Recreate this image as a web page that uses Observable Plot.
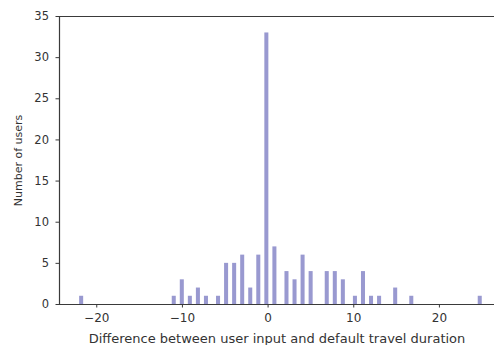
<!DOCTYPE html>
<html>
<head>
<meta charset="utf-8">
<script src="https://cdn.jsdelivr.net/npm/d3@7"></script>
<script src="https://cdn.jsdelivr.net/npm/@observablehq/plot@0.6"></script>
<style>
  html, body { margin: 0; padding: 0; background: #fff; overflow: hidden; }
  #chart svg { display: block; }
</style>
</head>
<body>
<div id="chart"></div>
<script>
// Difference values (integers) and the number of users at each
const diffs  = [-22, -11, -10, -9, -8, -7, -6, -5, -4, -3, -2, -1, 0, 1, 2, 3, 4, 5, 7, 8, 9, 10, 11, 12, 13, 15, 17, 25];
const counts = [  1,   1,   3,  1,  2,  1,  1,  5,  5,  6,  2,  6, 33, 7, 4, 3, 6, 4, 4, 4, 3,  1,  4,  1,  1,  2,  1,  1];
const xTicks = [-20, -10, 0, 10, 20];
const yTicks = [0, 5, 10, 15, 20, 25, 30, 35];

// histogram: 100 equal bins spanning the data range
const lo = d3.min(diffs), hi = d3.max(diffs), nBins = 100;
const bw = (hi - lo) / nBins;
const bars = diffs.map((v, i) => {
  const k = Math.min(nBins - 1, Math.floor((v - lo) / bw));
  return {x1: lo + k * bw, x2: lo + (k + 1) * bw, count: counts[i]};
});

const pad = (hi - lo) * 0.05;
const axisColor = "#3a3a3a";

const chart = Plot.plot({
  width: 494,
  height: 345,
  marginLeft: 59,
  marginRight: 0,
  marginTop: 16,
  marginBottom: 41,
  style: {fontFamily: "DejaVu Sans", fontSize: "12px", color: "#333", background: "#fff"},
  x: {domain: [lo - pad, 26.43]},
  y: {domain: [0, 35]},
  marks: [
    Plot.rectY(bars, {x1: "x1", x2: "x2", y: "count", fill: "#9999d0", inset: 0}),
    Plot.ruleY([35], {stroke: axisColor, strokeWidth: 1.2}),
    Plot.ruleY([0], {stroke: axisColor, strokeWidth: 1.2}),
    Plot.ruleX([lo - pad], {stroke: axisColor, strokeWidth: 1.2}),
    Plot.axisX({ticks: xTicks, tickSize: 3.5, tickPadding: 5.5, stroke: axisColor,
      label: "Difference between user input and default travel duration",
      labelAnchor: "center", labelArrow: "none", labelOffset: 38}),
    Plot.axisY({ticks: yTicks, tickSize: 3.5, tickPadding: 7, stroke: axisColor,
      label: "Number of users", labelAnchor: "center", labelArrow: "none", labelOffset: 45})
  ]
});
d3.select(chart).select('g[aria-label="x-axis label"]').attr("font-size", 13);
d3.select(chart).select('g[aria-label="y-axis label"]').attr("font-size", 11);
d3.select(chart).select('g[aria-label="y-axis tick label"]').attr("font-size", 11.5);
document.getElementById("chart").appendChild(chart);
</script>
</body>
</html>
